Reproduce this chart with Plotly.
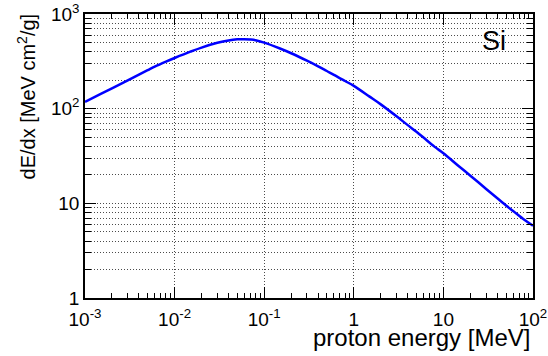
import plotly.graph_objects as go

# Proton stopping power in silicon
energy_mev = [0.001, 0.0015, 0.002, 0.003, 0.004, 0.005, 0.006, 0.008, 0.01, 0.015,
              0.02, 0.03, 0.04, 0.05, 0.06, 0.07, 0.08, 0.1, 0.15, 0.2, 0.3, 0.4,
              0.5, 0.6, 0.8, 1.0, 1.5, 2.0, 3.0, 4.0, 5.0, 6.0, 8.0, 10.0, 15.0,
              20.0, 30.0, 40.0, 50.0, 60.0, 80.0, 100.0]
dedx = [118, 143, 164, 199, 229, 255, 278, 314, 343, 400,
        442, 496, 526, 540, 542, 537, 528, 498, 432, 385, 321, 280,
        250, 228, 196, 174, 134, 111, 83, 67, 57, 49.5, 39.5, 33.8, 24.5,
        19.6, 14.2, 11.3, 9.5, 8.3, 6.7, 5.8]

x_major = [1e-3, 1e-2, 1e-1, 1, 10, 100]
x_major_text = ["10<sup>-3</sup>", "10<sup>-2</sup>", "10<sup>-1</sup>", "1", "10", "10<sup>2</sup>"]
y_major = [1, 10, 100, 1000]
y_major_text = ["1", "10", "10<sup>2</sup>", "10<sup>3</sup>"]
x_minor = [k * 10.0 ** e for e in range(-3, 2) for k in range(2, 10)]
y_minor = [k * 10.0 ** e for e in range(0, 3) for k in range(2, 10)]

FONT = "Liberation Sans, Arial, Helvetica, sans-serif"
grid_col = "rgba(0,0,0,0.7)"
grid_dash = "1px,2px"

fig = go.Figure()
fig.add_trace(go.Scatter(x=energy_mev, y=dedx, mode="lines",
                         line=dict(color="#0000ff", width=2.5, shape="spline"),
                         showlegend=False, hoverinfo="skip"))
# invisible traces so that the minor-tick overlay axes get drawn
fig.add_trace(go.Scatter(x=[energy_mev[0]], y=[dedx[0]], xaxis="x2", yaxis="y",
                         mode="markers", marker=dict(opacity=0), showlegend=False,
                         hoverinfo="skip"))
fig.add_trace(go.Scatter(x=[energy_mev[0]], y=[dedx[0]], xaxis="x", yaxis="y2",
                         mode="markers", marker=dict(opacity=0), showlegend=False,
                         hoverinfo="skip"))

common = dict(type="log", showline=True, linecolor="black", linewidth=1.5,
              mirror="ticks", ticks="inside", tickcolor="black", tickwidth=1,
              automargin=False, zeroline=False)

fig.update_layout(
    width=548, height=356,
    margin=dict(l=85, r=15, t=14, b=58),
    paper_bgcolor="white", plot_bgcolor="white",
    font=dict(family=FONT, size=19, color="black"),
    showlegend=False,
    xaxis=dict(**common, range=[-3, 2], tickvals=x_major, ticktext=x_major_text,
               ticklen=11, showgrid=True, gridcolor=grid_col, griddash=grid_dash,
               gridwidth=1, ticklabelstandoff=3),
    xaxis2=dict(**common, range=[-3, 2], overlaying="x", anchor="y", side="bottom",
                tickvals=x_minor, showticklabels=False, ticklen=5, showgrid=False),
    yaxis=dict(**common, range=[0, 3], tickvals=y_major, ticktext=y_major_text,
               ticklen=11, showgrid=True, gridcolor=grid_col, griddash=grid_dash,
               gridwidth=1),
    yaxis2=dict(**common, range=[0, 3], overlaying="y", anchor="x", side="left",
                tickvals=y_minor, showticklabels=False, ticklen=6, showgrid=True,
                gridcolor=grid_col, griddash=grid_dash, gridwidth=1),
)

fig.add_annotation(text="proton energy [MeV]", xref="paper", yref="paper",
                   x=0.998, y=-0.085, xanchor="right", yanchor="top",
                   showarrow=False, font=dict(family=FONT, size=24))
fig.add_annotation(text="dE/dx [MeV cm<sup>2</sup>/g]", xref="paper", yref="paper",
                   x=-0.13, y=1.008, xanchor="center", yanchor="top", textangle=-90,
                   showarrow=False, font=dict(family=FONT, size=20))
fig.add_annotation(text="Si", xref="paper", yref="paper", x=0.945, y=0.905,
                   xanchor="right", yanchor="middle", showarrow=False,
                   font=dict(family=FONT, size=27))

fig.write_html("out.html")
